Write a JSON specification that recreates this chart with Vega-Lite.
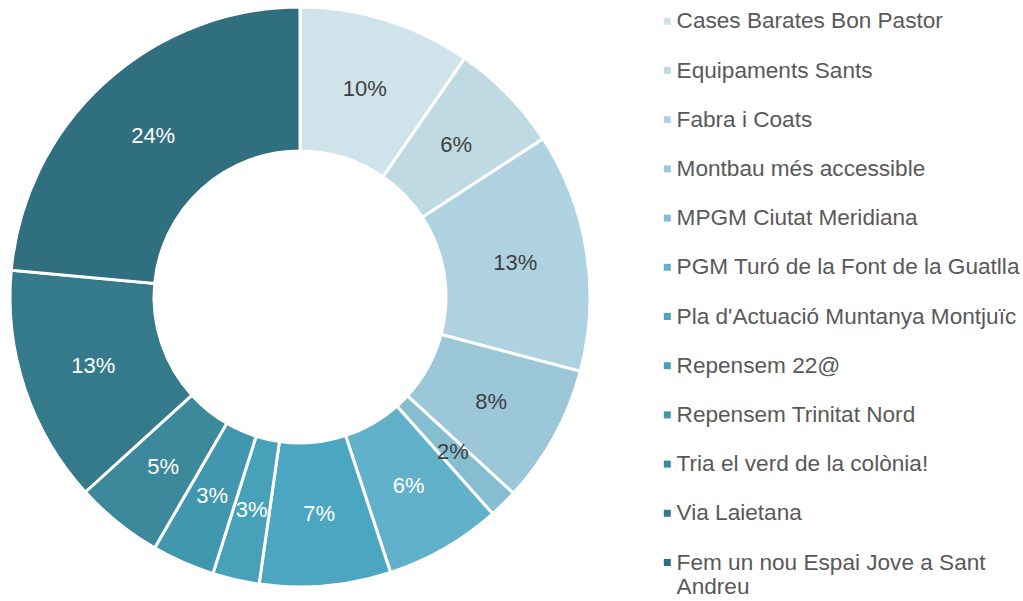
{
  "$schema": "https://vega.github.io/schema/vega-lite/v6.json",
  "width": 600,
  "height": 594,
  "padding": 0,
  "background": "white",
  "data": {
    "values": [
      {"k": 1, "name": "Cases Barates Bon Pastor", "value": 9.6, "label": "10%"},
      {"k": 2, "name": "Equipaments Sants", "value": 6.2, "label": "6%"},
      {"k": 3, "name": "Fabra i Coats", "value": 13.3, "label": "13%"},
      {"k": 4, "name": "Montbau més accessible", "value": 7.7, "label": "8%"},
      {"k": 5, "name": "MPGM Ciutat Meridiana", "value": 1.6, "label": "2%"},
      {"k": 6, "name": "PGM Turó de la Font de la Guatlla", "value": 6.5, "label": "6%"},
      {"k": 7, "name": "Pla d'Actuació Muntanya Montjuïc", "value": 7.3, "label": "7%"},
      {"k": 8, "name": "Repensem 22@", "value": 2.6, "label": "3%"},
      {"k": 9, "name": "Repensem Trinitat Nord", "value": 3.5, "label": "3%"},
      {"k": 10, "name": "Tria el verd de la colònia!", "value": 4.9, "label": "5%"},
      {"k": 11, "name": "Via Laietana", "value": 13.2, "label": "13%"},
      {"k": 12, "name": "Fem un nou Espai Jove a Sant Andreu", "value": 23.5, "label": "24%"}
    ]
  },
  "encoding": {
    "theta": {"field": "value", "type": "quantitative", "stack": true},
    "order": {"field": "k", "type": "quantitative"}
  },
  "layer": [
    {
      "mark": {"type": "arc", "outerRadius": 290, "innerRadius": 146, "stroke": "white", "strokeWidth": 3},
      "encoding": {
        "color": {
          "field": "name",
          "type": "nominal",
          "sort": null,
          "scale": {
            "domain": ["Cases Barates Bon Pastor", "Equipaments Sants", "Fabra i Coats", "Montbau més accessible", "MPGM Ciutat Meridiana", "PGM Turó de la Font de la Guatlla", "Pla d'Actuació Muntanya Montjuïc", "Repensem 22@", "Repensem Trinitat Nord", "Tria el verd de la colònia!", "Via Laietana", "Fem un nou Espai Jove a Sant Andreu"],
            "range": ["#cfe3ea", "#c0dae4", "#aed2e0", "#9bc7d8", "#85bdd1", "#62b1ca", "#4aa6c1", "#46a1b9", "#4197ad", "#3c899c", "#347a8b", "#2f6f80"]
          },
          "legend": {
            "orient": "none",
            "legendX": 656,
            "legendY": 10,
            "title": null,
            "labelFont": "Liberation Sans",
            "labelFontSize": 22.6,
            "labelColor": "#595959",
            "labelLimit": 400,
            "labelOffset": -2,
            "symbolType": "square",
            "symbolSize": 49,
            "symbolStrokeWidth": 0,
            "rowPadding": 26.2,
            "padding": 0,
            "labelExpr": "datum.label == 'Fem un nou Espai Jove a Sant Andreu' ? ['Fem un nou Espai Jove a Sant', 'Andreu'] : datum.label"
          }
        }
      }
    },
    {
      "mark": {"type": "text", "radius": 218, "font": "Liberation Sans", "fontSize": 22},
      "encoding": {
        "text": {"field": "label", "type": "nominal"},
        "color": {
          "condition": {"test": "datum.k <= 5", "value": "#404040"},
          "value": "#ffffff"
        }
      }
    }
  ],
  "config": {"view": {"stroke": null}}
}
